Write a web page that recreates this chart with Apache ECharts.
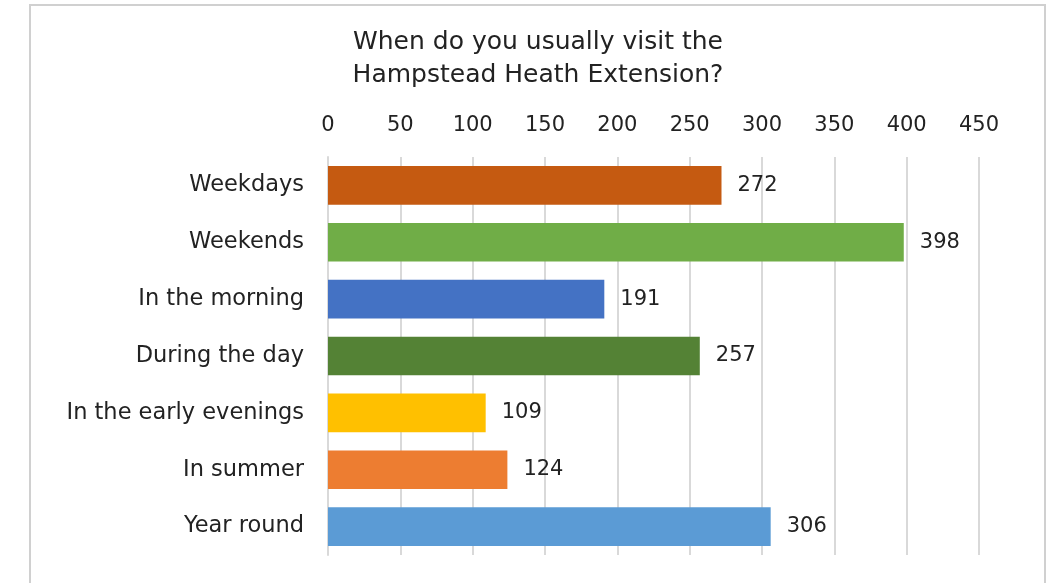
<!DOCTYPE html>
<html>
<head>
<meta charset="utf-8">
<script src="https://cdn.jsdelivr.net/npm/echarts@6/dist/echarts.min.js"></script>
<style>
  html, body { margin: 0; padding: 0; background: #fff; }
  #main { width: 1051px; height: 583px; }
</style>
</head>
<body>
<div id="main"></div>
<script>
// data
const categories = ['Weekdays', 'Weekends', 'In the morning', 'During the day',
  'In the early evenings', 'In summer', 'Year round']
const visits = [272, 398, 191, 257, 109, 124, 306]
const barColors = ['#C55A11', '#70AD47', '#4472C4', '#548235', '#FFC000', '#ED7D31', '#5B9BD5']

const fontName = 'DejaVu Sans'
const textColor = '#222'

var myChart = echarts.init(document.getElementById('main'))

myChart.setOption({
  backgroundColor: '#fff',
  animation: false,
  title: {
    text: 'When do you usually visit the\nHampstead Heath Extension?',
    left: 538,
    top: 26,
    padding: 0,
    textAlign: 'center',
    textStyle: {
      fontFamily: fontName,
      fontSize: 25,
      fontWeight: 'normal',
      lineHeight: 33,
      color: textColor
    }
  },
  // chart frame
  graphic: [{
    type: 'rect',
    shape: { x: 30, y: 5, width: 1015, height: 640 },
    style: { fill: null, stroke: '#d0d0d0', lineWidth: 2 },
    silent: true
  }],
  grid: {
    left: 328,
    right: 72,
    top: 157,
    bottom: 28
  },
  xAxis: {
    type: 'value',
    position: 'top',
    min: 0,
    max: 450,
    interval: 50,
    axisLine: { show: false },
    axisTick: { show: false },
    axisLabel: {
      margin: 31,
      verticalAlign: 'middle',
      fontFamily: fontName,
      fontSize: 21,
      color: textColor
    },
    splitLine: {
      lineStyle: { color: '#d9d9d9', width: 2 }
    }
  },
  yAxis: {
    type: 'category',
    inverse: true,
    data: categories,
    axisLine: {
      lineStyle: { color: '#d9d9d9', width: 2 }
    },
    axisTick: { show: false },
    axisLabel: {
      margin: 24,
      fontFamily: fontName,
      fontSize: 22.5,
      color: textColor
    }
  },
  series: [{
    name: 'visits',
    type: 'bar',
    barCategoryGap: '32%',
    data: visits.map((v, i) => ({ value: v, itemStyle: { color: barColors[i] } })),
    label: {
      show: true,
      position: 'right',
      distance: 16,
      fontFamily: fontName,
      fontSize: 21,
      color: textColor
    }
  }]
})
</script>
</body>
</html>
